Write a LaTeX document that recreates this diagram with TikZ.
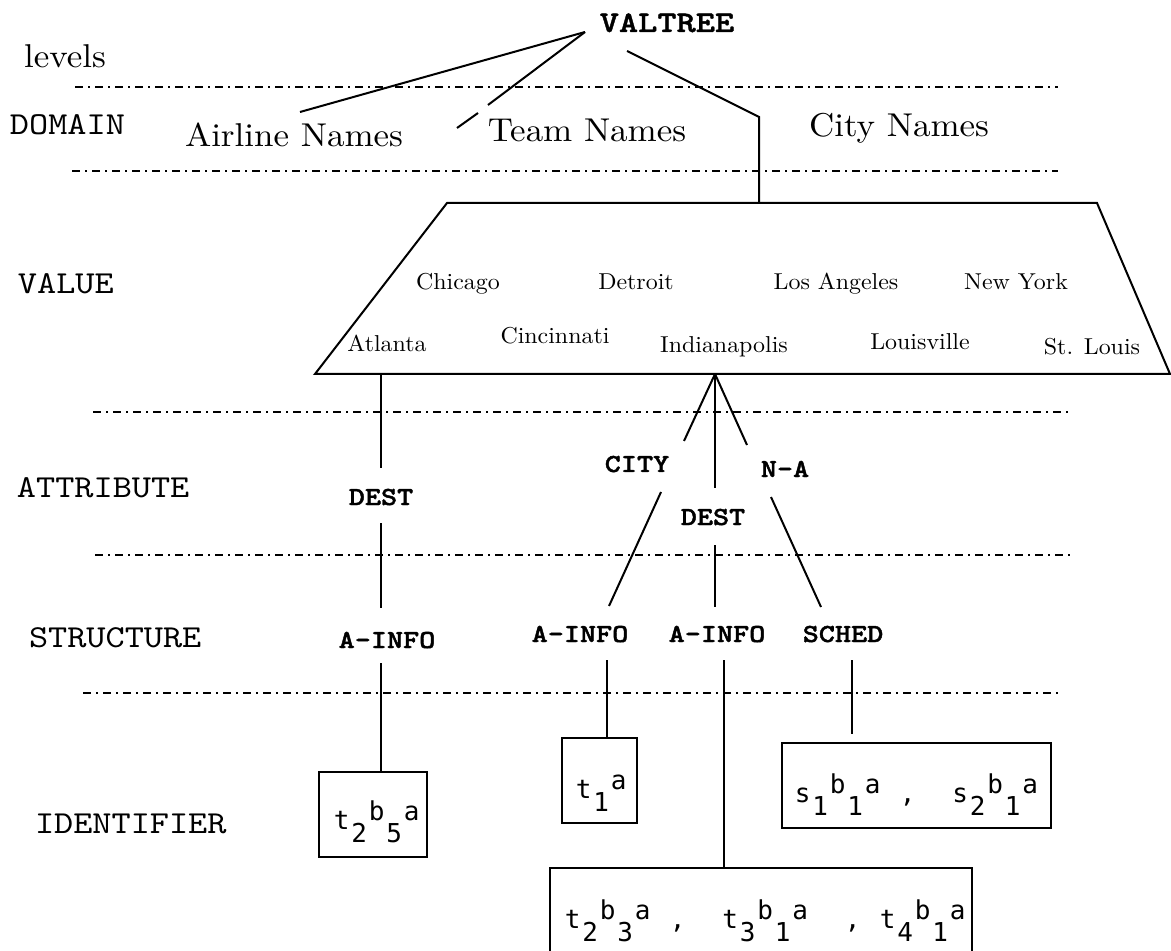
\documentclass[tikz,border=0pt]{standalone}
\usepackage{fontspec}
\newfontfamily\domf{lmroman10-regular}[Extension=.otf,FakeStretch=1.06]
\newfontfamily\ctyf{lmroman10-regular}[Extension=.otf,FakeStretch=1.04]
\newfontfamily\twf{lmmono10-regular}[Extension=.otf,FakeStretch=1.14]
\newfontfamily\twbf{lmmonolt10-bold}[Extension=.otf,FakeStretch=1.18,FakeBold=1.6]
\newfontfamily\vtf{lmmonolt10-bold}[Extension=.otf,FakeStretch=1.22,FakeBold=1.2]
\newfontfamily\idf{DejaVu Sans Mono}
\newcommand\idc[1]{\makebox[8.75pt][c]{#1}}
\newcommand\idlo[1]{\raisebox{-6.5pt}{\idc{#1}}}
\newcommand\idhi[1]{\raisebox{4.5pt}{\idc{#1}}}
\tikzset{
  every node/.style={inner sep=0pt,outer sep=0pt},
  lvlname/.style={font={\twf\fontsize{16}{16}\selectfont},anchor=base west},
  attr/.style={font={\twbf\fontsize{13}{13}\selectfont},anchor=base},
  dom/.style={font={\domf\fontsize{16.5}{16.5}\selectfont},anchor=base},
  cty/.style={font={\ctyf\fontsize{11.5}{11.5}\selectfont},anchor=base},
  idtext/.style={font={\idf\fontsize{13}{13}\selectfont},anchor=base west},
  sep/.style={line width=1pt,dash pattern=on 4pt off 2.5pt on 1pt off 2.5pt},
  conn/.style={line width=1pt},
  idbox/.style={draw,line width=1pt}
}
\begin{document}
\begin{tikzpicture}[x=0.5pt,y=-0.5pt]
\useasboundingbox (0,0) rectangle (1171,951);
\clip (0,0) rectangle (1171,951);
\fill[white] (0,0) rectangle (1171,951);

% level separators
\draw[sep] (75,87) -- (1058,87);
\draw[sep] (72,171) -- (1058,171);
\draw[sep] (93,412) -- (1072,412);
\draw[sep] (95,555) -- (1072,555);
\draw[sep] (83,693) -- (1058,693);

% level names
\node[font={\domf\fontsize{16.5}{16.5}\selectfont},anchor=base] (levels) at (65,68) {levels};
\node[lvlname] (ldomain) at (10,135) {DOMAIN};
\node[lvlname] (lvalue) at (18,294) {VALUE};
\node[lvlname] (lattr) at (17,497) {ATTRIBUTE};
\node[lvlname] (lstruct) at (29,647) {STRUCTURE};
\node[lvlname] (lident) at (35,833) {IDENTIFIER};

% root and domains
\node[font={\vtf\fontsize{15}{15}\selectfont},anchor=base] (valtree) at (667,32) {VALTREE};
\node[dom] (airline) at (294,147) {Airline Names};
\node[dom] (team) at (587,142) {Team Names};
\node[dom] (city) at (899,137) {City Names};

\coordinate (vtj) at (585,32);
\coordinate (airE) at (300,112);
\coordinate (teamA) at (488,105);
\coordinate (teamB) at (478,113);
\coordinate (teamE) at (457,128);
\coordinate (vtR) at (627,51);
\coordinate (cityK) at (759,117);
\draw[conn] (vtj) -- (airE);
\draw[conn] (vtj) -- (teamA);
\draw[conn] (teamB) -- (teamE);

% value trapezoid
\coordinate (tl) at (447,203);
\coordinate (tr) at (1097,203);
\coordinate (br) at (1170,374);
\coordinate (bl) at (315,374);
\draw[conn,line join=miter] (tl) -- (tr) -- (br) -- (bl) -- cycle;
\draw[conn] (vtR) -- (cityK) -- (cityK |- tl);

\node[cty] (chicago) at (458,290) {Chicago};
\node[cty] (detroit) at (636,290) {Detroit};
\node[cty] (losang) at (836,290) {Los Angeles};
\node[cty] (newyork) at (1016,290) {New York};
\node[cty] (atlanta) at (387,352) {Atlanta};
\node[cty] (cincy) at (555,344) {Cincinnati};
\node[cty] (indy) at (724,353) {Indianapolis};
\node[cty] (louis) at (920,350) {Louisville};
\node[cty] (stl) at (1092,355) {St. Louis};

% attribute labels
\node[attr] (dest1) at (381,505) {DEST};
\node[attr] (cityA) at (637,472) {CITY};
\node[attr] (na) at (785,477) {N-A};
\node[attr] (dest2) at (713,525) {DEST};

% structure labels
\node[attr] (ai1) at (387,648) {A-INFO};
\node[attr] (ai2) at (580,642) {A-INFO};
\node[attr] (ai3) at (717,642) {A-INFO};
\node[attr] (sched) at (843,642) {SCHED};

% identifier boxes
\node[idbox,minimum width=54pt,minimum height=42.5pt] (b1) at (373,814.5) {};
\node[idbox,minimum width=37.5pt,minimum height=42.5pt] (b2) at (599.5,780.5) {};
\node[idbox,minimum width=134.5pt,minimum height=42.5pt] (b4) at (916.5,785.5) {};
\node[idbox,minimum width=211pt,minimum height=70pt] (b3) at (761,938) {};

\node[idtext] (b1t) at (333,829) {\idc{t}\idlo{2}\idhi{b}\idlo{5}\idhi{a}};
\node[idtext] (b2t) at (575,798) {\idc{t}\idlo{1}\idhi{a}};
\node[idtext] (b4t) at (794,802) {\idc{s}\idlo{1}\idhi{b}\idlo{1}\idhi{a}\idc{}\idc{,}\idc{}\idc{}\idc{s}\idlo{2}\idhi{b}\idlo{1}\idhi{a}};
\node[idtext] (b3t) at (564,928) {\idc{t}\idlo{2}\idhi{b}\idlo{3}\idhi{a}\idc{}\idc{,}\idc{}\idc{}\idc{t}\idlo{3}\idhi{b}\idlo{1}\idhi{a}\idc{}\idc{}\idc{,}\idc{}\idc{t}\idlo{4}\idhi{b}\idlo{1}\idhi{a}};

% Atlanta branch
\coordinate (at0) at (381,374);
\coordinate (at1) at (381,468);
\coordinate (at2) at (381,523);
\coordinate (at3) at (381,608);
\coordinate (at4) at (381,663);
\draw[conn] (at0) -- (at1);
\draw[conn] (at2) -- (at3);
\draw[conn] (at4) -- (at4 |- b1.north);

% Indianapolis branches
\coordinate (hub) at (715,374);
\coordinate (hl1) at (684,441);
\coordinate (hl2) at (661,492);
\coordinate (hl3) at (609,606);
\coordinate (hm1) at (715,488);
\coordinate (hm2) at (715,545);
\coordinate (hm3) at (715,607);
\coordinate (hr1) at (747,445);
\coordinate (hr2) at (771,497);
\coordinate (hr3) at (821,607);
\draw[conn] (hub) -- (hl1);
\draw[conn] (hl2) -- (hl3);
\draw[conn] (hub) -- (hm1);
\draw[conn] (hm2) -- (hm3);
\draw[conn] (hub) -- (hr1);
\draw[conn] (hr2) -- (hr3);

% structure to identifiers
\coordinate (s2) at (607,660);
\coordinate (s3) at (724,660);
\coordinate (s4) at (852,660);
\coordinate (s4e) at (852,734);
\draw[conn] (s2) -- (s2 |- b2.north);
\draw[conn] (s3) -- (s3 |- b3.north);
\draw[conn] (s4) -- (s4e);
\end{tikzpicture}
\end{document}
